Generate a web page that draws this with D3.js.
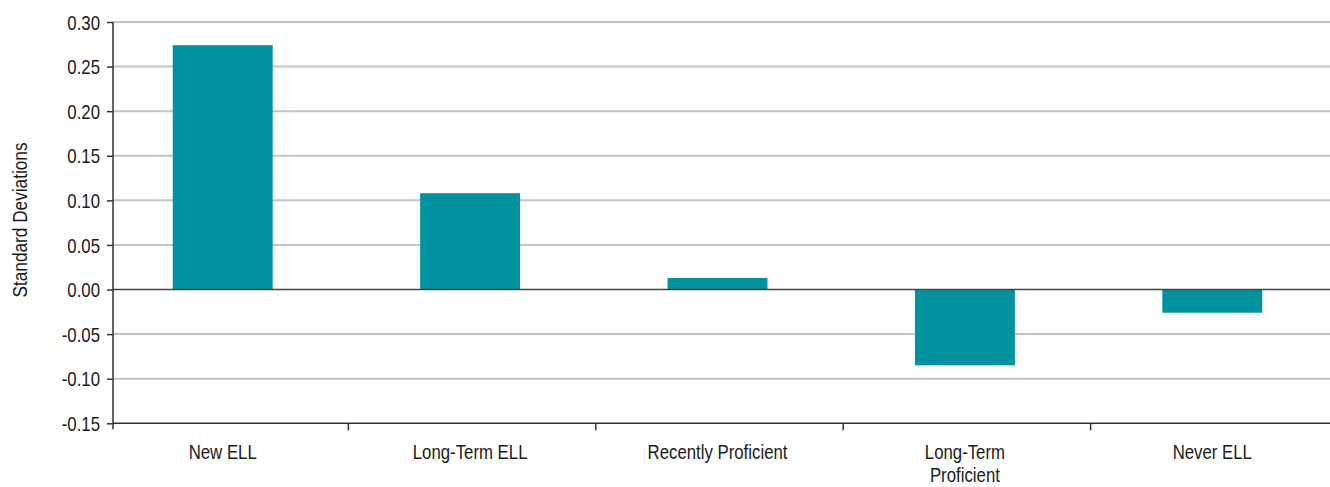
<!DOCTYPE html>
<html>
<head>
<meta charset="utf-8">
<script src="https://cdn.jsdelivr.net/npm/d3@7"></script>
<style>
  body { margin: 0; background: #fff; }
  svg text { font-family: "Liberation Sans Narrow", "Arial Narrow", "Liberation Sans", sans-serif; fill: #1a1a1a; }
</style>
</head>
<body>
<svg id="chart" width="1330" height="487"></svg>
<script>
// data
var categories = ["New ELL", "Long-Term ELL", "Recently Proficient", "Long-Term Proficient", "Never ELL"]
var labelLines = [["New ELL"], ["Long-Term ELL"], ["Recently Proficient"], ["Long-Term", "Proficient"], ["Never ELL"]]
var values = [0.274, 0.108, 0.013, -0.085, -0.026]
var yTicks = [0.30, 0.25, 0.20, 0.15, 0.10, 0.05, 0.00, -0.05, -0.10, -0.15]

var svg = d3.select("#chart")
var plotLeft = 113, plotRight = 1330, plotTop = 22, plotBottom = 423.3
var squeeze = 0.84   // no narrow font installed, so condense the text by hand

var y = d3.scaleLinear().domain([-0.15, 0.30]).range([plotBottom, plotTop])
var x = d3.scaleBand().domain(categories).range([99, 1336]).paddingInner(0.596).paddingOuter(0.298)

// grid lines
svg.append("g").selectAll("line").data(yTicks.filter(function(d) { return d != 0 && d != -0.15 }))
  .enter().append("line")
  .attr("x1", plotLeft).attr("x2", plotRight)
  .attr("y1", function(d) { return y(d) }).attr("y2", function(d) { return y(d) })
  .style("stroke", "#c4c4c8").style("stroke-width", "2px")

// bars
svg.append("g").selectAll("rect").data(values).enter().append("rect")
  .attr("x", function(d, i) { return x(categories[i]) })
  .attr("width", x.bandwidth())
  .attr("y", function(d) { return y(Math.max(0, d)) })
  .attr("height", function(d) { return Math.abs(y(d) - y(0)) })
  .style("fill", "#00939f")

// zero line
svg.append("line").attr("x1", plotLeft).attr("x2", plotRight).attr("y1", y(0)).attr("y2", y(0))
  .style("stroke", "#444").style("stroke-width", "1.5px")

// y axis
var yAxis = svg.append("g").attr("transform", "translate(" + plotLeft + ",0)")
  .call(d3.axisLeft(y).tickValues(yTicks).tickSize(6).tickPadding(7))
yAxis.select(".domain").attr("d", "M0," + plotTop + "V" + (plotBottom + 6)).style("stroke", "#333").style("stroke-width", "1.5px")
yAxis.selectAll(".tick line").style("stroke", "#333").style("stroke-width", "1.5px")
yAxis.selectAll(".tick text")
  .attr("x", 0).attr("dy", "0.36em")
  .attr("transform", "translate(-13,0) scale(" + squeeze + ",1)")
  .style("font-size", "20px")
  .text(function(d) { return d3.format(".2f")(d).replace("−", "-") })

// x axis line and category ticks
svg.append("line").attr("x1", plotLeft).attr("x2", plotRight).attr("y1", plotBottom).attr("y2", plotBottom)
  .style("stroke", "#333").style("stroke-width", "1.5px")
var gap = (x.step() - x.bandwidth()) / 2
svg.append("g").selectAll("line").data(categories.slice(1)).enter().append("line")
  .attr("x1", function(d) { return x(d) - gap + 2 }).attr("x2", function(d) { return x(d) - gap + 2 })
  .attr("y1", plotBottom).attr("y2", plotBottom + 7)
  .style("stroke", "#333").style("stroke-width", "1.5px")

// category labels
var lab = svg.append("g").selectAll("text").data(categories).enter().append("text")
  .attr("text-anchor", "middle")
  .attr("transform", function(d) { return "translate(" + (x(d) + x.bandwidth() / 2) + ",459) scale(" + squeeze + ",1)" })
  .style("font-size", "20px")
lab.selectAll("tspan").data(function(d, i) { return labelLines[i] }).enter().append("tspan")
  .attr("x", 0)
  .attr("dy", function(d, i) { return i == 0 ? 0 : 23 })
  .text(function(d) { return d })

// y title
svg.append("text").attr("transform", "translate(27,220) rotate(-90) scale(" + squeeze + ",1)")
  .attr("text-anchor", "middle").style("font-size", "20.5px")
  .text("Standard Deviations")
</script>
</body>
</html>
